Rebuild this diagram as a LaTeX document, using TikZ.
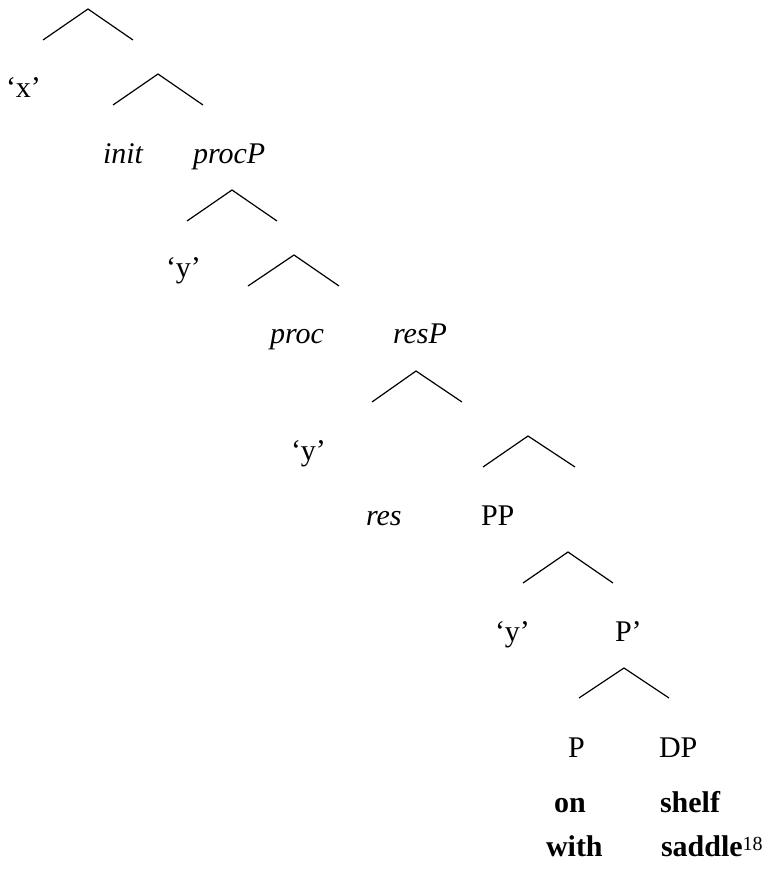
\documentclass[tikz,border=0pt]{standalone}
\usepackage{fontspec}
\setmainfont{Liberation Serif}
\begin{document}
\begin{tikzpicture}[x=1pt,y=-1pt,
  lbl/.style={anchor=base west,inner sep=0pt,outer sep=0pt,font=\fontsize{30}{36}\selectfont},
  ital/.style={lbl,font=\fontsize{30}{36}\selectfont\itshape},
  bld/.style={lbl,font=\fontsize{30}{36}\selectfont\bfseries},
  branch/.style={line width=1.2pt,line join=miter}]
\useasboundingbox (0,0) rectangle (776,873);

% wedges: left foot, apex, right foot
\foreach \n/\lx/\ax/\rx/\top/\bot in {
  1/43/88/133/9/40,
  2/113/158/203/74/105,
  3/187/232/277/190/221,
  4/248/294/339/255/286,
  5/372/416/462/371/402,
  6/483/528/575/436/467,
  7/523/568/613/552/583,
  8/579/624/669/668/698}{
  \coordinate (l\n) at (\lx,\bot);
  \coordinate (a\n) at (\ax,\top);
  \coordinate (r\n) at (\rx,\bot);
  \draw[branch] (l\n) -- (a\n) -- (r\n);
}

% labels
\node[lbl]  (x)      at (6,97)    {‘x’};
\node[ital] (init)   at (103,163) {init};
\node[ital] (procP)  at (193,163) {procP};
\node[lbl]  (y1)     at (166,277) {‘y’};
\node[ital] (proc)   at (270,343) {proc};
\node[ital] (resP)   at (393,343) {resP};
\node[lbl]  (y2)     at (291,460) {‘y’};
\node[ital] (res)    at (366,525) {res};
\node[lbl]  (PP)     at (481,525) {PP};
\node[lbl]  (y3)     at (495,641) {‘y’};
\node[lbl]  (Pbar)   at (615,641) {P’};
\node[lbl]  (P)      at (568,757) {P};
\node[lbl]  (DP)     at (659,757) {DP};
\node[bld]  (on)     at (554,812) {on};
\node[bld]  (shelf)  at (660,812) {shelf};
\node[bld]  (with)   at (546,856) {with};
\node[bld]  (saddle) at (661,856) {saddle\raisebox{6pt}{\fontsize{20}{20}\selectfont\mdseries 18}};
\end{tikzpicture}
\end{document}
